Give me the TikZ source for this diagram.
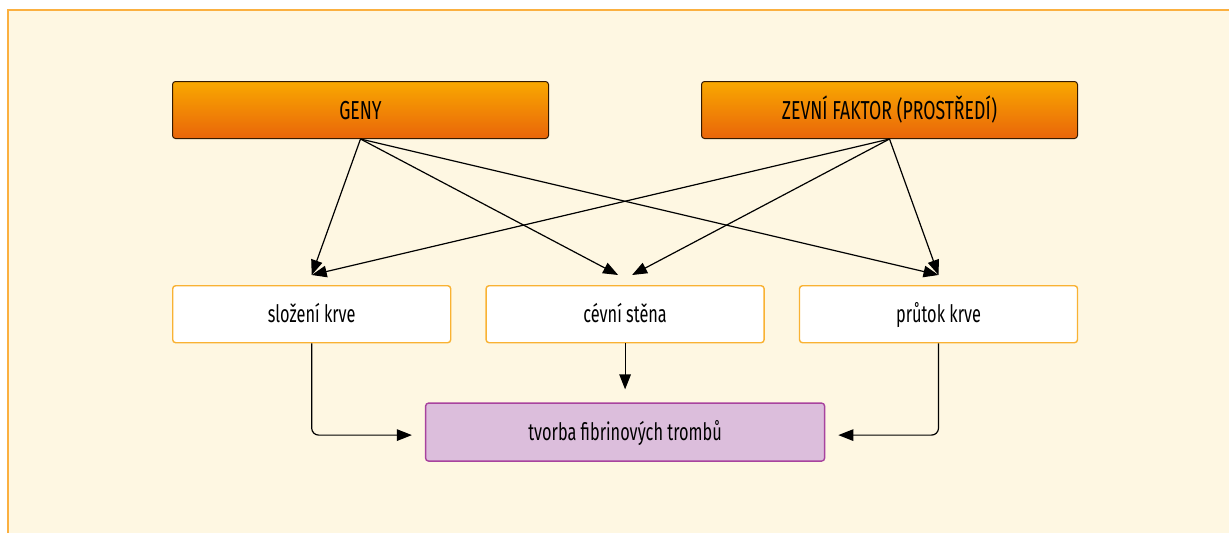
\documentclass[tikz,border=0pt]{standalone}
\usepackage{fontspec}
\setmainfont{Fira Sans}[FakeStretch=0.68]
\usepackage{tikz}
\usetikzlibrary{arrows.meta,positioning}

\definecolor{panel}{HTML}{FEF7E2}
\definecolor{panelline}{HTML}{FBB040}
\definecolor{orangetop}{HTML}{F9A800}
\definecolor{orangebot}{HTML}{E9650A}
\definecolor{midline}{HTML}{F9B233}
\definecolor{lila}{HTML}{DCBEDC}
\definecolor{lilaline}{HTML}{A8439E}

\begin{document}
\begin{tikzpicture}
 [x=1pt,y=-1pt,
 factor/.style={
  rectangle,
  rounded corners=3pt,
  draw=black!80!orange,
  line width=1pt,
  minimum width=376pt,
  minimum height=57pt,
  inner sep=0pt,
  text height=20pt,
  text depth=2pt,
  top color=orangetop,
  bottom color=orangebot,
  font=\fontsize{26}{30}\selectfont},
 part/.style={
  rectangle,
  rounded corners=3pt,
  draw=midline,
  line width=1.4pt,
  fill=white,
  minimum width=278pt,
  minimum height=57pt,
  inner sep=0pt,
  text height=19pt,
  text depth=3pt,
  font=\fontsize{24}{28}\selectfont},
 result/.style={
  part,
  draw=lilaline,
  fill=lila,
  minimum width=399pt,
  minimum height=58pt},
 tip/.style={-{Triangle[length=15pt,width=11.5pt]},line width=1.2pt}]
\useasboundingbox (0,0) rectangle (1229,533);
% background panel
\fill[panel] (8,10) rectangle (1229,533);
\draw[panelline,line width=2pt] (8,533) -- (8,10) -- (1229,10);
\node (geny) [factor] at (360.5,110) {GENY};
\node (zevni) [factor,right=152pt of geny] {ZEVNÍ FAKTOR (PROSTŘEDÍ)};
\node (slozeni) [part,below=146pt of geny.south west,anchor=north west] {složení krve};
\node (cevni) [part,right=34pt of slozeni] {cévní stěna};
\node (prutok) [part,right=34pt of cevni] {průtok krve};
\node (tvorba) [result,below=59pt of cevni] {tvorba fibrinových trombů};
% arrow ends
\coordinate (slozeni-in) at ([yshift=10pt]slozeni.north);
\coordinate (cevni-l) at ([xshift=-7pt,yshift=10pt]cevni.north);
\coordinate (cevni-r) at ([xshift=7pt,yshift=10pt]cevni.north);
\coordinate (prutok-in) at ([yshift=10pt]prutok.north);
\coordinate (tvorba-l) at ([xshift=-13pt,yshift=-3pt]tvorba.west);
\coordinate (tvorba-r) at ([xshift=13pt,yshift=-3pt]tvorba.east);
\coordinate (tvorba-t) at ([yshift=13pt]tvorba.north);
\path (geny.south)  edge[tip] (slozeni-in) ;
\path (geny.south)  edge[tip] (cevni-l) ;
\path (geny.south)  edge[tip] (prutok-in) ;
\path (zevni.south)  edge[tip] (slozeni-in) ;
\path (zevni.south)  edge[tip] (cevni-r) ;
\path (zevni.south)  edge[tip] (prutok-in) ;
\draw[tip,rounded corners=7pt] (slozeni.south) |- (tvorba-l);
\draw[tip,rounded corners=7pt] (prutok.south) |- (tvorba-r);
\path (cevni.south)  edge[tip] (tvorba-t) ;
\end{tikzpicture}
\end{document}
